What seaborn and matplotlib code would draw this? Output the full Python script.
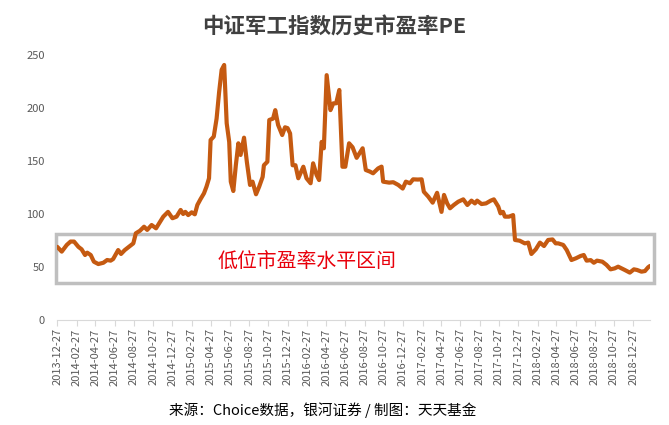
import numpy as np
import matplotlib.pyplot as plt
import matplotlib.dates as mdates
import matplotlib.transforms as mtransforms
from matplotlib.patches import Rectangle
import seaborn as sns
import pandas as pd

# ---------------------------------------------------
# Data (date, PE)
# ---------------------------------------------------
dates = [
    "2013-12-27", "2014-01-10", "2014-01-26", "2014-02-07", "2014-02-18",
    "2014-03-04", "2014-03-14", "2014-03-25", "2014-04-01", "2014-04-12",
    "2014-04-22", "2014-05-06", "2014-05-22", "2014-06-03", "2014-06-14",
    "2014-06-22", "2014-07-08", "2014-07-17", "2014-07-29", "2014-08-14",
    "2014-08-25", "2014-09-02", "2014-09-15", "2014-09-28", "2014-10-08",
    "2014-10-22", "2014-11-05", "2014-11-28", "2014-12-13", "2014-12-27",
    "2015-01-09", "2015-01-22", "2015-01-30", "2015-02-06", "2015-02-15",
    "2015-02-26", "2015-03-08", "2015-03-16", "2015-03-26", "2015-04-06",
    "2015-04-14", "2015-04-22", "2015-04-27", "2015-05-07", "2015-05-16",
    "2015-05-24", "2015-06-01", "2015-06-09", "2015-06-17", "2015-06-25",
    "2015-06-30", "2015-07-08", "2015-07-16", "2015-07-24", "2015-07-31",
    "2015-08-11", "2015-08-20", "2015-08-30", "2015-09-07", "2015-09-18",
    "2015-09-28", "2015-10-09", "2015-10-13", "2015-10-24", "2015-10-30",
    "2015-11-11", "2015-11-18", "2015-11-27", "2015-12-10", "2015-12-19",
    "2015-12-27", "2016-01-04", "2016-01-12", "2016-01-21", "2016-01-30",
    "2016-02-15", "2016-02-25", "2016-03-09", "2016-03-17", "2016-03-28",
    "2016-04-05", "2016-04-13", "2016-04-20", "2016-04-29", "2016-05-11",
    "2016-05-20", "2016-05-29", "2016-06-08", "2016-06-18", "2016-06-27",
    "2016-07-09", "2016-07-20", "2016-08-02", "2016-08-21", "2016-08-31",
    "2016-09-13", "2016-09-23", "2016-10-09", "2016-10-20", "2016-10-25",
    "2016-11-13", "2016-11-26", "2016-12-12", "2016-12-26", "2017-01-05",
    "2017-01-18", "2017-01-28", "2017-02-12", "2017-02-24", "2017-03-03",
    "2017-03-17", "2017-03-31", "2017-04-14", "2017-04-28", "2017-05-06",
    "2017-05-16", "2017-05-25", "2017-06-06", "2017-06-20", "2017-07-06",
    "2017-07-19", "2017-08-01", "2017-08-12", "2017-08-19", "2017-09-02",
    "2017-09-16", "2017-10-01", "2017-10-11", "2017-10-25", "2017-11-01",
    "2017-11-09", "2017-11-15", "2017-11-28", "2017-12-11", "2017-12-17",
    "2018-01-01", "2018-01-17", "2018-01-28", "2018-02-07", "2018-02-21",
    "2018-03-06", "2018-03-19", "2018-04-01", "2018-04-15", "2018-04-25",
    "2018-05-03", "2018-05-19", "2018-05-30", "2018-06-14", "2018-06-28",
    "2018-07-13", "2018-07-23", "2018-08-01", "2018-08-14", "2018-08-24",
    "2018-09-03", "2018-09-20", "2018-10-03", "2018-10-16", "2018-10-29",
    "2018-11-09", "2018-11-20", "2018-11-30", "2018-12-16", "2018-12-29",
    "2019-01-08", "2019-01-22", "2019-02-02", "2019-02-12", "2019-02-18",
]

pe = [
    69.0, 64.5, 70.8, 74.0, 74.0,
    69.0, 66.7, 61.3, 63.5, 61.3,
    55.0, 52.8, 54.0, 56.6, 56.0,
    57.5, 66.0, 62.3, 66.0, 69.8,
    72.3, 81.8, 84.2, 88.0, 85.0,
    89.6, 86.5, 97.5, 102.0, 96.0,
    97.5, 103.8, 100.0, 102.0, 99.0,
    101.6, 99.7, 108.5, 114.0, 119.5,
    125.8, 133.7, 169.8, 173.0, 190.0,
    215.0, 236.0, 240.6, 185.6, 168.0,
    130.5, 121.7, 146.0, 166.7, 155.7,
    172.0, 149.0, 127.4, 130.5, 118.6,
    125.8, 135.0, 146.0, 149.3, 188.7,
    190.0, 198.0, 184.0, 174.5, 181.8,
    181.0, 176.0, 146.0, 146.0, 133.7,
    144.6, 133.7, 129.0, 147.8, 136.8,
    132.0, 168.0, 162.0, 231.0, 198.0,
    204.4, 204.4, 217.0, 144.6, 144.6,
    166.7, 163.0, 153.0, 162.0, 141.5,
    140.0, 138.4, 143.0, 144.7, 130.5,
    129.6, 130.0, 127.4, 124.0, 130.5,
    129.0, 132.7, 132.5, 132.7, 121.0,
    116.4, 110.7, 120.0, 102.0, 118.0,
    110.0, 105.4, 108.5, 111.6, 113.8,
    108.5, 112.6, 110.0, 112.6, 109.4,
    110.0, 112.6, 113.8, 107.0, 100.6,
    102.0, 97.5, 97.5, 99.0, 75.5,
    74.8, 72.3, 73.0, 62.3, 66.7,
    73.0, 69.8, 75.5, 76.0, 72.3,
    72.3, 70.8, 66.0, 56.6, 58.2,
    60.4, 61.3, 56.0, 56.5, 54.0,
    56.0, 55.0, 52.0, 47.8, 48.7,
    50.3, 48.7, 47.2, 44.7, 47.8,
    47.2, 45.6, 46.2, 49.7, 51.0,
]

# low PE band shown by the grey box
band_low = 34.6
band_high = 80.8

title = "中证军工指数历史市盈率PE"
band_label = "低位市盈率水平区间"
source = "来源：Choice数据，银河证券 / 制图：天天基金"

df = pd.DataFrame({"date": pd.to_datetime(dates), "pe": pe})

# ---------------------------------------------------
# Plot
# ---------------------------------------------------
sns.set_style("white")
plt.rcParams["font.family"] = ["Noto Sans CJK SC", "DejaVu Sans"]

fig = plt.figure(figsize=(6.69, 4.25), dpi=100)
ax = fig.add_axes([57.3 / 669, 1 - 320 / 425, (650 - 57.3) / 669, (320 - 55) / 425])

sns.lineplot(data=df, x="date", y="pe", ax=ax, color="#c55a11", linewidth=3, zorder=4)

ax.set_xlim(df["date"].iloc[0], df["date"].iloc[-1])
ax.set_ylim(0, 250)
ax.set_yticks([0, 50, 100, 150, 200, 250])
ax.set_xlabel("")
ax.set_ylabel("")

# ticks every two months on the 27th
ticks = pd.date_range("2013-12-27", "2018-12-27", freq=pd.DateOffset(months=2))
ax.set_xticks(ticks)
ax.xaxis.set_major_formatter(mdates.DateFormatter("%Y-%m-%d"))
ax.tick_params(axis="x", rotation=90, labelsize=8, colors="#595959",
               length=4, width=0.8, direction="out", pad=2)
ax.tick_params(axis="x", color="#d9d9d9")
ax.tick_params(axis="y", labelsize=8, colors="#595959", length=0, pad=9)
ax.xaxis.set_tick_params(bottom=True)

sns.despine(ax=ax, left=True, top=True, right=True)
ax.spines["bottom"].set_color("#d9d9d9")
ax.spines["bottom"].set_linewidth(0.8)

# grey box marking the low PE range (drawn under the line)
trans = mtransforms.blended_transform_factory(ax.transAxes, ax.transData)
box = Rectangle((-0.003, band_low), 1.009, band_high - band_low, transform=trans,
                fill=False, edgecolor="#bfbfbf", linewidth=2.5, clip_on=False, zorder=2)
ax.add_patch(box)
ax.text(0.271, 55.7, band_label, transform=trans, color="#e8000b",
        fontsize=14.3, va="center", ha="left", zorder=3)

fig.text(0.5, 1 - 27 / 425, title, ha="center", va="center",
         fontsize=15.5, fontweight="bold", color="#404040")
fig.text(323 / 669, 1 - 410 / 425, source, ha="center", va="center",
         fontsize=10.5, color="#000000")

plt.savefig("out.png", dpi=100)
